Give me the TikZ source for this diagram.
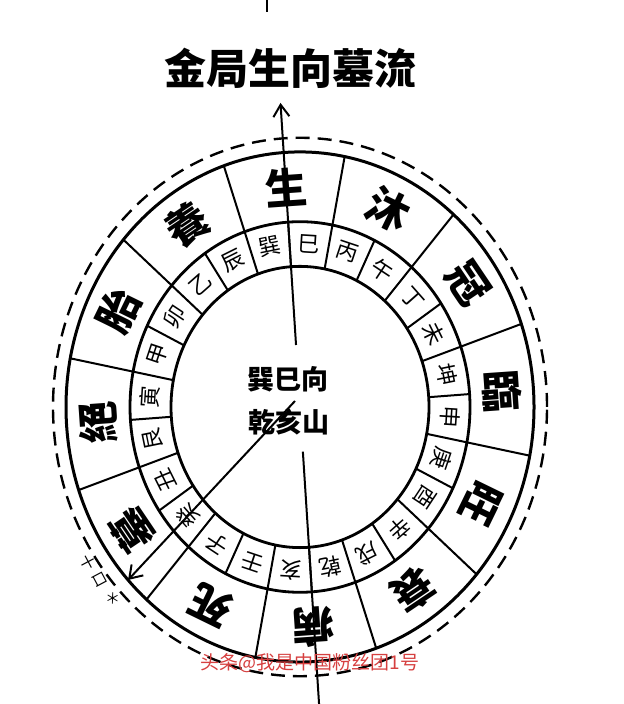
\documentclass[tikz,border=0pt]{standalone}
\usepackage{fontspec}
\newfontfamily\cjk{Noto Sans CJK TC}
\usetikzlibrary{arrows.meta}
\definecolor{wmred}{RGB}{214,64,64}
\begin{document}
\begin{tikzpicture}[x=.5pt,y=.5pt,
    big/.style={font=\cjk\bfseries\fontsize{21}{21}\selectfont,inner sep=0pt},
    small/.style={font=\cjk\fontsize{11}{11}\selectfont,inner sep=0pt},
    ring/.style={line width=1.4pt},
    sep/.style={line width=1pt},
    barb/.style={-{Straight Barb[length=6pt,width=8pt]}}]
  \useasboundingbox (0,0) rectangle (624,704);
  \node[font=\cjk\bfseries\fontsize{21}{21}\selectfont] (title) at (290,636) {金局生向墓流};
  \draw[sep] (267,692) -- (267,704);
  \begin{scope}[shift={(300,297)},yscale=1.09]
    \coordinate (c) at (0,0);
    \draw[line width=1.2pt,dash pattern=on 7pt off 4pt] (c) circle (247);
    \draw[line width=1.5pt] (c) circle (234);
    \draw[ring] (c) circle (170) (c) circle (129);
    % twelve stages, outer ring
    \foreach \a in {0,...,11}
      \draw[sep] (109-30*\a:170) -- (109-30*\a:234);
    \foreach \t [count=\i from 0] in {生,沐,冠,臨,旺,衰,病,死,墓,絕,胎,養}
      \node[big,rotate=4-30*\i] (g\i) at (94-30*\i:202) {\t};
    % twenty-four mountains
    \foreach \a in {0,...,23}
      \draw[sep] (94-15*\a:129) -- (94-15*\a:170);
    \foreach \t [count=\i from 0] in {巽,巳,丙,午,丁,未,坤,申,庚,酉,辛,戌,乾,亥,壬,子,癸,丑,艮,寅,甲,卯,乙,辰}
      \node[small,rotate=11.5-15*\i] (s\i) at (101.5-15*\i:150) {\t};
    % axis and arrows
    \coordinate (up) at (94:279.6);
    \coordinate (upin) at (94:57);
    \coordinate (down) at (274:280);
    \coordinate (downin) at (274:41);
    \coordinate (from) at (-5,5.5);
    \coordinate (tip) at (222.7:234);
    \draw[sep,barb] (upin) -- (up);
    \draw[sep] (downin) -- (down);
    \draw[sep,barb] (from) -- (tip);
  \end{scope}
  \node[font=\cjk\bfseries\fontsize{13.5}{13.5}\selectfont] (xiang) at (288,325) {巽巳向};
  \node[font=\cjk\bfseries\fontsize{13.5}{13.5}\selectfont] (shan) at (289,282) {乾亥山};
  \foreach \t/\x/\y [count=\i] in {十/88/142,口/100/124,＊/113/106}
    \node[font=\cjk\fontsize{7.5}{7.5}\selectfont,rotate=-62,inner sep=0pt] (note\i) at (\x,\y) {\t};
  \node[font=\cjk\fontsize{9.5}{9.5}\selectfont,text=wmred] (wm) at (310,41) {头条@我是中国粉丝团1号};
\end{tikzpicture}
\end{document}
